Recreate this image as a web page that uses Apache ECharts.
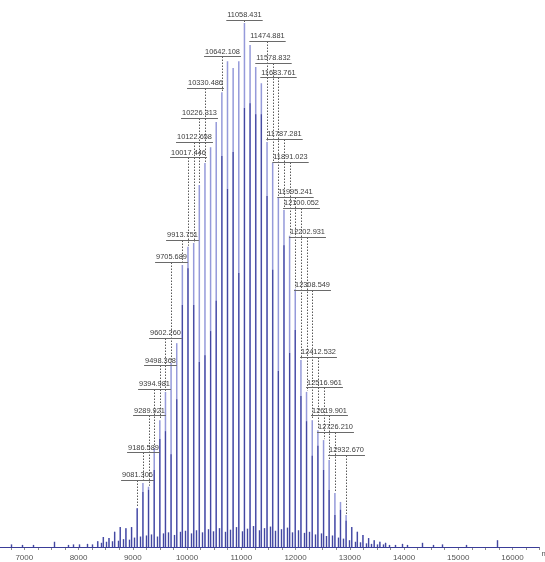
<!DOCTYPE html>
<html>
<head>
<meta charset="utf-8">
<script src="https://cdn.jsdelivr.net/npm/echarts@6/dist/echarts.min.js"></script>
<style>
html,body{margin:0;padding:0;background:#fff;}
#c{width:545px;height:562px;}
</style>
</head>
<body>
<div id="c"></div>
<script>
// ---------------- data ----------------
// main peak series: m/z and relative intensity (%)
const peakMass = [8353, 8457, 8561, 8665, 8769, 8873, 8977,
  9081.306, 9186.589, 9289.921, 9394.981, 9498.368, 9602.260, 9705.689, 9810,
  9913.751, 10017.446, 10122.658, 10226.313, 10330.486, 10434, 10538, 10642.108, 10746, 10850, 10954,
  11058.431, 11162, 11266, 11370,
  11474.881, 11578.832, 11683.761, 11787.281, 11891.023, 11995.241, 12100.052, 12202.931, 12308.549,
  12412.532, 12516.961, 12619.901, 12726.210, 12829, 12932.670,
  13036, 13140, 13243, 13347, 13451, 13555, 13660];
const peakHeight = [1.1, 1.9, 1.7, 2.9, 3.8, 3.6, 3.8,
  7.4, 12.2, 11.5, 18.9, 24.2, 29.6, 35.1, 38.9,
  53.8, 57.3, 58.0, 69.1, 73.3, 76.3, 81.1, 86.8, 92.7, 91.4, 92.7,
  100, 95.8, 91.6, 88.5,
  77.3, 73.3, 66.8, 64.3, 59.4, 49.2, 35.7, 29.6, 24.2,
  22.3, 20.4, 16.6, 10.3, 8.6, 6.1,
  3.8, 2.9, 2.3, 1.7, 1.3, 1.0, 0.8];
// height of the darker (denser) lower part of each peak
const peakCore = [1.1, 1.9, 1.7, 2.9, 3.8, 3.6, 3.8,
  7.4, 10.5, 10.9, 14.7, 20.6, 22.1, 17.7, 28.2,
  46.2, 53.2, 46.2, 35.3, 36.6, 41.2, 47.0, 74.6, 68.3, 75.4, 52.3,
  83.8, 84.7, 82.6, 82.6,
  67.0, 52.9, 33.6, 57.6, 37.0, 41.4, 28.8, 24.0, 17.4,
  19.3, 14.7, 10.9, 6.1, 7.1, 5.0,
  3.8, 2.9, 2.3, 1.7, 1.3, 1.0, 0.8];
// small peaks / noise between and around the main series
const noiseMass = [6760, 6950, 7160, 7540, 7810, 7900, 8000, 8150, 8250,
  8405, 8510, 8615, 8720, 8820, 8925, 9030,
  9133, 9238, 9342, 9446, 9550, 9654, 9758, 9862, 9966, 10070,
  10174, 10278, 10382, 10486, 10590, 10694, 10798, 10902, 11006, 11110,
  11214, 11318, 11422, 11526, 11630, 11735, 11839, 11943, 12047, 12151,
  12255, 12360, 12464, 12568, 12673, 12777, 12881, 12985, 13090,
  13190, 13300, 13400, 13500, 13610, 13720, 13830, 13960, 14060,
  14330, 14530, 14700, 15150, 15710];
const noiseHeight = [0.5, 0.4, 0.4, 1.0, 0.4, 0.5, 0.5, 0.6, 0.5,
  0.8, 1.0, 1.1, 1.2, 1.5, 1.4, 1.8,
  2.0, 2.2, 2.4, 2.0, 2.6, 2.8, 2.3, 2.9, 3.1, 2.6,
  3.2, 2.8, 3.4, 3.0, 3.6, 2.9, 3.3, 3.8, 3.0, 3.5,
  4.0, 3.2, 3.6, 3.9, 3.1, 3.4, 3.7, 2.8, 3.2, 2.7,
  2.9, 2.4, 2.6, 2.1, 2.2, 1.8, 1.6, 1.3, 1.0,
  0.9, 0.7, 0.6, 0.5, 0.5, 0.4, 0.4, 0.6, 0.4,
  0.8, 0.4, 0.5, 0.4, 1.3];
// labelled peaks (m/z values printed on the chart)
const labelMass = [11058.431, 11474.881, 10642.108, 11578.832, 11683.761, 10330.486, 10226.313,
  11787.281, 10122.658, 10017.446, 11891.023, 11995.241, 12100.052, 12202.931, 9913.751,
  9705.689, 12308.549, 9602.260, 12412.532, 9498.368, 12516.961, 9394.981, 9289.921,
  12619.901, 12726.210, 9186.589, 12932.670, 9081.306];
// axis labels every 1000
const xTickStep = 1000;

// ---------------- layout (label stacking levels, in intensity units) ----------------
const labelLevel = [101.5, 97.5, 94.5, 93.3, 90.5, 88.5, 82.8,
  78.8, 78.2, 75.2, 74.4, 67.7, 65.6, 60.1, 59.5,
  55.3, 50.0, 40.8, 37.2, 35.5, 31.3, 31.1, 26.0,
  26.0, 22.9, 18.9, 18.5, 13.7];

const LIGHT = '#959ada';
const DARK = '#4347a0';
const LABEL_FONT = '7.4px "Liberation Sans", Arial, sans-serif';

const mctx = document.createElement('canvas').getContext('2d');
mctx.font = LABEL_FONT;

function heightOf(m) {
  let best = 0, bd = Infinity;
  peakMass.forEach((pm, i) => { const d = Math.abs(pm - m); if (d < bd) { bd = d; best = i; } });
  return peakHeight[best];
}

const peakData = peakMass.map((m, i) => [m, peakHeight[i], peakCore[i]]);
const noiseData = noiseMass.map((m, i) => [m, noiseHeight[i]]);
const labelData = labelMass.map((m, i) => [m, heightOf(m), labelLevel[i]]);

const chart = echarts.init(document.getElementById('c'), null, {renderer: 'canvas'});

chart.setOption({
  animation: false,
  backgroundColor: '#ffffff',
  grid: {left: -2.8, right: 5.4, top: 23, bottom: 10, outerBoundsMode: 'none', containLabel: false},
  xAxis: {
    type: 'value', min: 6500, max: 16500, interval: 500,
    name: 'm/z', nameLocation: 'end', nameGap: 2,
    nameTextStyle: {fontSize: 8, color: '#555', verticalAlign: 'top', align: 'left', padding: [3, 0, 0, 0], fontFamily: 'Liberation Sans'},
    axisLine: {lineStyle: {color: '#8c8c8c', width: 1}},
    axisTick: {show: true, length: 3, lineStyle: {color: '#8c8c8c'}},
    minorTick: {show: true, splitNumber: 2, length: 3, lineStyle: {color: '#8c8c8c'}},
    splitLine: {show: false},
    axisLabel: {
      fontSize: 8, color: '#555', margin: 2, fontFamily: 'Liberation Sans',
      showMinLabel: false, showMaxLabel: false,
      formatter: v => (v % xTickStep === 0 ? String(v) : '')
    }
  },
  yAxis: {type: 'value', show: false, min: -0.954, max: 100},
  series: [
    {
      type: 'custom', name: 'noise', data: noiseData, encode: {x: 0, y: 1}, z: 2,
      renderItem: (params, api) => {
        const b = api.coord([api.value(0), 0]);
        const t = api.coord([api.value(0), api.value(1)]);
        const x = Math.round(b[0]) + 0.5;
        return {type: 'line', shape: {x1: x, y1: b[1], x2: x, y2: t[1]},
          style: {stroke: DARK, lineWidth: 1.4}};
      },
      markLine: {
        silent: true, symbol: 'none', label: {show: false},
        lineStyle: {color: '#3a3d98', width: 1, type: 'solid'},
        data: [{yAxis: 0}]
      }
    },
    {
      type: 'custom', name: 'peaks', data: peakData, encode: {x: 0, y: 1}, z: 3,
      renderItem: (params, api) => {
        const m = api.value(0);
        const b = api.coord([m, 0]);
        const t = api.coord([m, api.value(1)]);
        const d = api.coord([m, api.value(2)]);
        const x = b[0];
        return {type: 'group', children: [
          {type: 'line', shape: {x1: x, y1: b[1], x2: x, y2: t[1]}, style: {stroke: LIGHT, lineWidth: 1.5}},
          {type: 'line', shape: {x1: x, y1: b[1], x2: x, y2: d[1]}, style: {stroke: DARK, lineWidth: 1.2}}
        ]};
      }
    },
    {
      type: 'custom', name: 'labels', data: labelData, encode: {x: 0, y: 1}, z: 5,
      renderItem: (params, api) => {
        const m = api.value(0);
        const txt = labelMass[params.dataIndex].toFixed(3);
        const p = api.coord([m, api.value(2)]);
        const top = api.coord([m, api.value(1)]);
        const x = Math.round(p[0]) + 0.5;
        const w = mctx.measureText(txt).width;
        const uy = Math.round(p[1] + 4.5) + 0.5;
        return {type: 'group', children: [
          {type: 'line', shape: {x1: x, y1: uy, x2: x, y2: top[1] - 1},
            style: {stroke: '#5a5a5a', lineWidth: 1, lineDash: [1.5, 1.5]}},
          {type: 'line', shape: {x1: x - w / 2 - 1, y1: uy, x2: x + w / 2 + 1, y2: uy},
            style: {stroke: '#6a6a6a', lineWidth: 1}},
          {type: 'text', x: x, y: p[1],
            style: {text: txt, font: LABEL_FONT, fill: '#3c3c3c', align: 'center', verticalAlign: 'middle'}}
        ]};
      }
    }
  ]
});
</script>
</body>
</html>
